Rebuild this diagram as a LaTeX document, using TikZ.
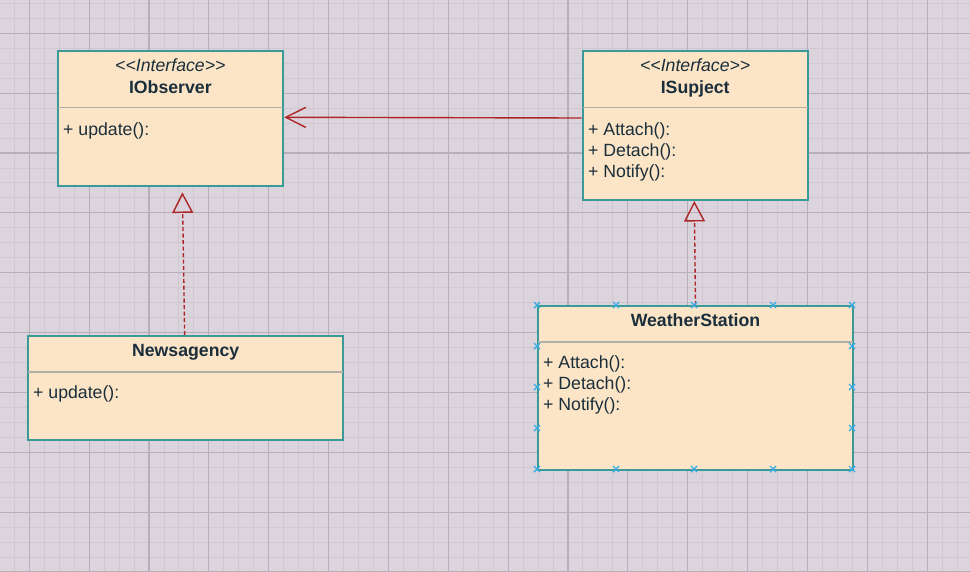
\documentclass[tikz,border=0pt]{standalone}
\usepackage{fontspec}
\newfontfamily\umlfont{Liberation Sans}
\usetikzlibrary{arrows.meta}
\definecolor{bg}{RGB}{220,212,220}
\definecolor{gridminor}{RGB}{208,199,209}
\definecolor{gridmajor}{RGB}{182,174,184}
\definecolor{boxfill}{RGB}{252,229,198}
\definecolor{boxline}{RGB}{58,154,154}
\definecolor{sepline}{RGB}{178,174,170}
\definecolor{txt}{RGB}{26,46,60}
\definecolor{rel}{RGB}{172,38,40}
\definecolor{handle}{RGB}{60,172,228}
\begin{document}
\begin{tikzpicture}[x=1pt,y=-1pt,
  umlbox/.style={draw=boxline, line width=2pt, fill=boxfill, inner sep=0pt, anchor=north west},
  sep/.style={draw=sepline, line width=1.8pt, shorten <=1pt, shorten >=1pt},
  lbl/.style={inner sep=0pt, text=txt, font=\umlfont\fontsize{17.7}{21}\selectfont},
  title/.style={lbl, font=\umlfont\fontsize{17.7}{21}\selectfont\bfseries, anchor=base},
  stereo/.style={lbl, font=\umlfont\fontsize{17.7}{21}\selectfont\itshape, anchor=base},
  member/.style={lbl, anchor=base west},
  realiz/.style={draw=rel, line width=1.4pt, dash pattern=on 4pt off 2.5pt,
    -{Triangle[open, length=20.5pt, width=21pt, line width=1.4pt]}},
  assoc/.style={draw=rel, line width=1.4pt,
    -{Straight Barb[length=20pt, width=20pt, line width=1.4pt]}},
  hdl/.style={draw=handle, line width=1.4pt}]
\useasboundingbox (0,0) rectangle (970,571);
\fill[bg] (0,0) rectangle (970,571);
% grid
\foreach \i in {-2,...,63} { \draw[gridminor, line width=0.9pt] ({29.3+14.9625*\i},0) -- ++(0,571); }
\foreach \i in {-3,...,37} { \draw[gridminor, line width=0.9pt] (0,{33.3+14.9625*\i}) -- ++(970,0); }
\foreach \i in {0,...,16} { \draw[gridmajor, line width=1.1pt] ({29.3+59.85*\i},0) -- ++(0,571); }
\foreach \i in {0,...,9} { \draw[gridmajor, line width=1.1pt] (0,{33.3+59.85*\i}) -- ++(970,0); }

% boxes
\node[umlbox, minimum width=225.7pt, minimum height=134.5pt] (iobs) at (56.5,50) {};
\node[umlbox, minimum width=225pt, minimum height=149.3pt] (isub) at (581.7,50) {};
\node[umlbox, minimum width=315pt, minimum height=164pt] (ws) at (537,305) {};
\node[umlbox, minimum width=314.7pt, minimum height=104.3pt] (news) at (27.3,335) {};

% separators
\draw[sep] (iobs.west |- 0,107.5) -- (iobs.east |- 0,107.5);
\draw[sep] (isub.west |- 0,107.5) -- (isub.east |- 0,107.5);
\draw[sep] (ws.west |- 0,341.7) -- (ws.east |- 0,341.7);
\draw[sep] (news.west |- 0,371.7) -- (news.east |- 0,371.7);

% texts
\node[stereo] (iobs-st) at (iobs.north |- 0,71) {<<Interface>>};
\node[title] (iobs-t) at (iobs.north |- 0,93.3) {IObserver};
\node[member] (iobs-m1) at (63,135) {+ update():};

\node[stereo] (isub-st) at (isub.north |- 0,71) {<<Interface>>};
\node[title] (isub-t) at (isub.north |- 0,93.3) {ISupject};
\node[member] (isub-m1) at (588,135) {+ Attach():};
\node[member] (isub-m2) at (588,156) {+ Detach():};
\node[member] (isub-m3) at (588,177) {+ Notify():};

\node[title] (ws-t) at (ws.north |- 0,326.7) {WeatherStation};
\node[member] (ws-m1) at (543,368.3) {+ Attach():};
\node[member] (ws-m2) at (543,389.5) {+ Detach():};
\node[member] (ws-m3) at (543,410.5) {+ Notify():};

\node[title] (news-t) at (news.north |- 0,356.7) {Newsagency};
\node[member] (news-m1) at (33,398.3) {+ update():};

% connectors
\coordinate (t1) at (182.4,192.4);
\coordinate (t2) at (694.3,201);
\draw[realiz] ([xshift=-1pt]news.north) -- (t1);
\draw[realiz] (ws.north) -- (t2);
\draw[assoc] (isub.west |- 0,118) -- (iobs.east |- 0,117.3);

% selection handles
\foreach \hx in {537,616,694,773,852} {
  \foreach \hy in {305,469} {
    \draw[hdl] (\hx-3,\hy-3) -- (\hx+3,\hy+3) (\hx-3,\hy+3) -- (\hx+3,\hy-3);
  }
}
\foreach \hx in {537,852} {
  \foreach \hy in {346,387,428} {
    \draw[hdl] (\hx-3,\hy-3) -- (\hx+3,\hy+3) (\hx-3,\hy+3) -- (\hx+3,\hy-3);
  }
}
\end{tikzpicture}
\end{document}
